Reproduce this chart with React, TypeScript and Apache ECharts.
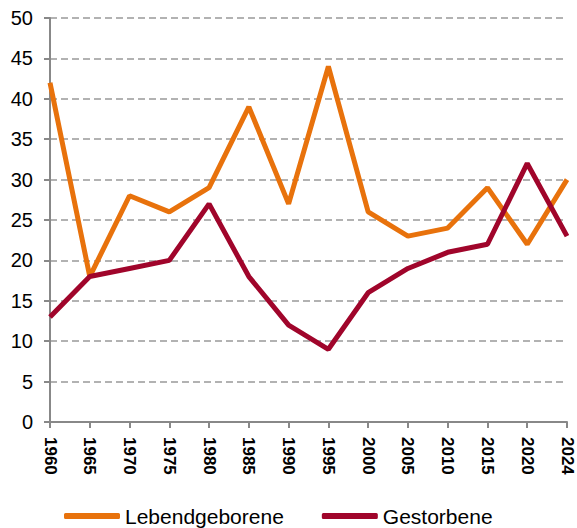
import React, { useEffect, useRef } from "react";
import * as echarts from "echarts";

const years = ["1960","1965","1970","1975","1980","1985","1990","1995","2000","2005","2010","2015","2020","2024"];
const lebendgeborene = [42, 18, 28, 26, 29, 39, 27, 44, 26, 23, 24, 29, 22, 30];
const gestorbene = [13, 18, 19, 20, 27, 18, 12, 9, 16, 19, 21, 22, 32, 23];

export default function App() {
  const ref = useRef<HTMLDivElement>(null);
  useEffect(() => {
    const chart = echarts.init(ref.current!, null, { renderer: "svg" });
    const font = "'Liberation Sans', Arial, sans-serif";
    chart.setOption({
      animation: false,
      textStyle: { fontFamily: font },
      grid: { left: 50, right: 10, top: 18, bottom: 106 },
      legend: {
        top: 505,
        left: 64,
        padding: 0,
        itemWidth: 56,
        itemHeight: 6,
        itemGap: 38,
        icon: "roundRect",
        textStyle: { fontSize: 21, lineHeight: 22, color: "#000", fontFamily: font },
        data: ["Lebendgeborene", "Gestorbene"],
      },
      xAxis: {
        type: "category",
        data: years,
        boundaryGap: false,
        axisLine: { lineStyle: { color: "#888", width: 2 } },
        axisTick: { show: true, length: 6, alignWithLabel: true, lineStyle: { color: "#888", width: 2 } },
        axisLabel: { rotate: -90, color: "#000", fontSize: 17, fontWeight: "bold", margin: 15, fontFamily: font },
      },
      yAxis: {
        type: "value",
        min: 0,
        max: 50,
        interval: 5,
        axisLine: { show: true, lineStyle: { color: "#888", width: 2 } },
        axisTick: { show: true, length: 6, lineStyle: { color: "#888", width: 2 } },
        axisLabel: { color: "#000", fontSize: 20, margin: 17, fontFamily: font },
        splitLine: { lineStyle: { color: "#999", type: [7, 4], width: 1.5 } },
      },
      series: [
        {
          name: "Lebendgeborene",
          type: "line",
          data: lebendgeborene,
          symbol: "none",
          lineStyle: { color: "#E8720C", width: 5 },
          itemStyle: { color: "#E8720C" },
        },
        {
          name: "Gestorbene",
          type: "line",
          data: gestorbene,
          symbol: "none",
          lineStyle: { color: "#A0052B", width: 5 },
          itemStyle: { color: "#A0052B" },
        },
      ],
    });
    return () => chart.dispose();
  }, []);
  return <div ref={ref} style={{ width: 577, height: 528, position: "absolute", left: 0, top: 0 }} />;
}
